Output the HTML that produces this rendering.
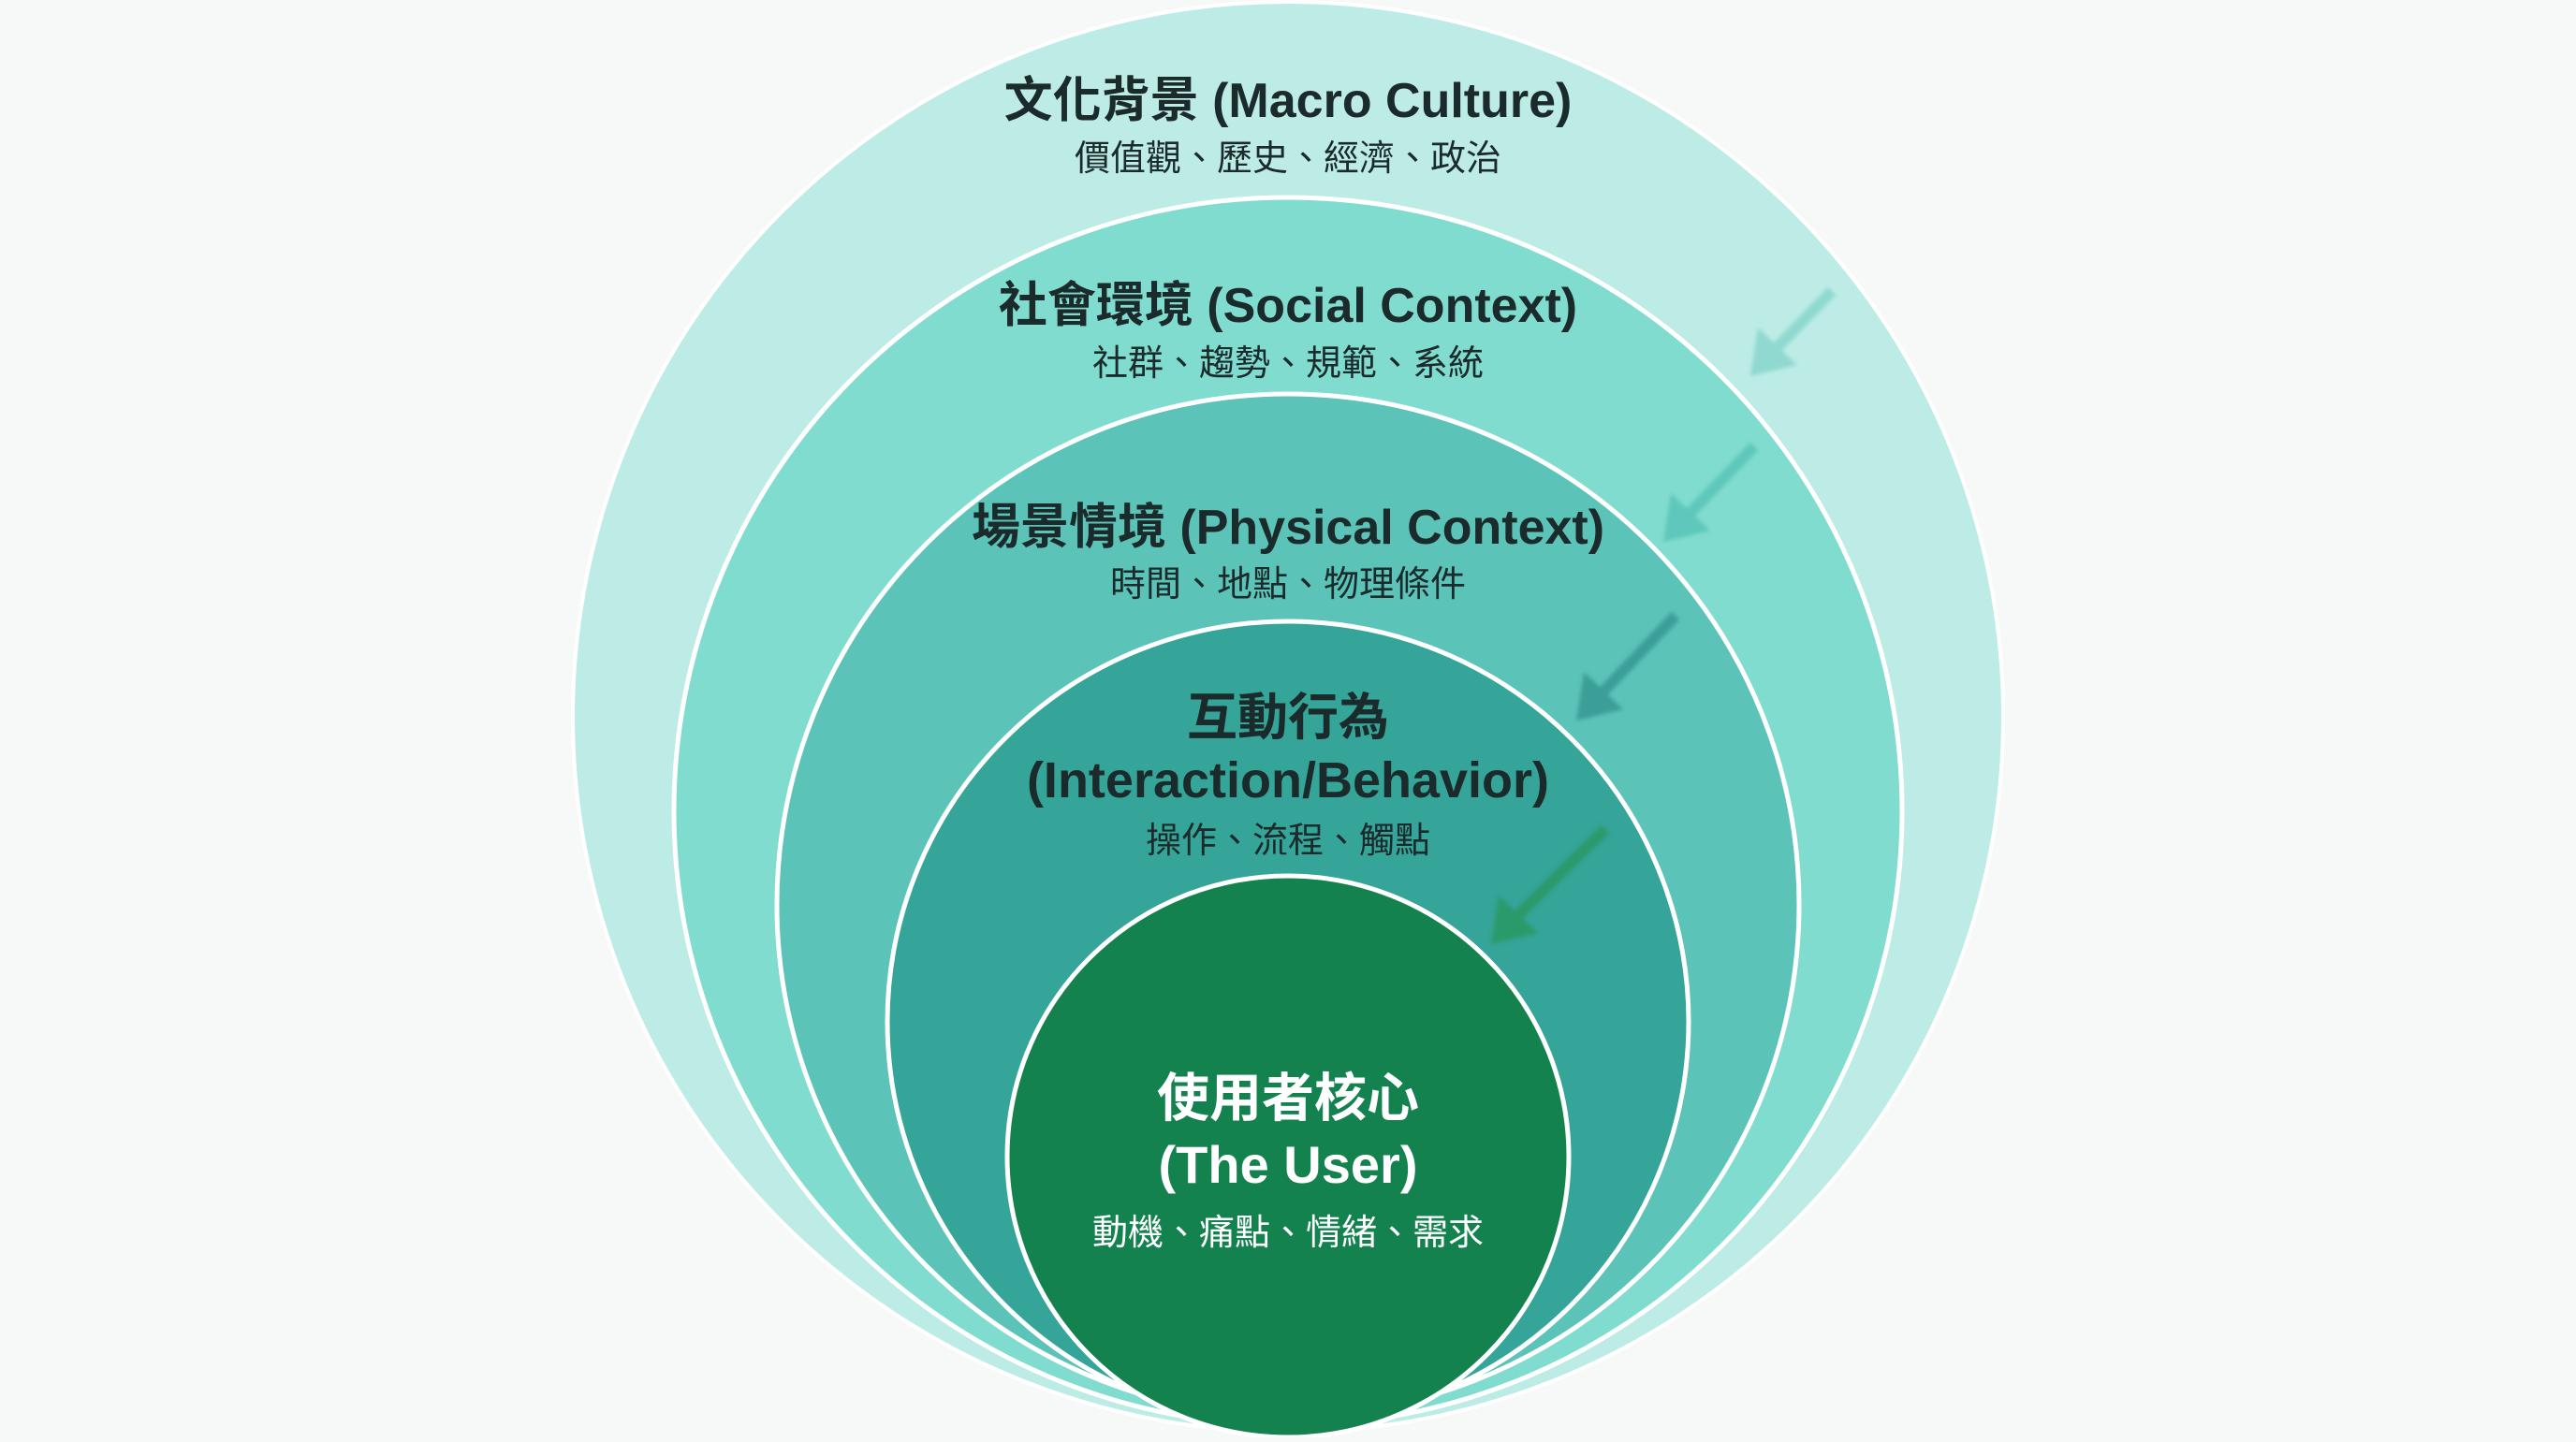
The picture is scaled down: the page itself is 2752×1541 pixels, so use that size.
<!DOCTYPE html>
<html><head><meta charset="utf-8"><style>
html,body{margin:0;padding:0;background:#f7f9f9;}
svg text{font-family:"Liberation Sans","Noto Sans CJK TC",sans-serif;text-anchor:middle;}
</style></head><body>
<svg width="2752" height="1536" viewBox="0 0 2752 1536" xmlns="http://www.w3.org/2000/svg">
<defs>
<filter id="bl"><feGaussianBlur stdDeviation="2"/></filter>
</defs>
<rect width="2752" height="1536" fill="#f7f9f9"/>
<circle cx="1376" cy="766" r="764" fill="#bdece6" stroke="#fff" stroke-width="4"/>
<circle cx="1376" cy="867" r="656" fill="#80dccf" stroke="#fff" stroke-width="5"/>
<circle cx="1376" cy="967" r="546" fill="#5cc3b9" stroke="#fff" stroke-width="5"/>
<circle cx="1376" cy="1092" r="428" fill="#35a499" stroke="#fff" stroke-width="5"/>
<circle cx="1376" cy="1236" r="300" fill="#13824f" stroke="#fff" stroke-width="5"/>
<g filter="url(#bl)">
<path d="M1957,311 L1895,375" stroke="#8fd9d0" stroke-width="12" fill="none"/>
<path d="M1870,402 L1878,350 L1920,390 z" fill="#8fd9d0"/>
<path d="M1874,477 L1802,552" stroke="#5ec7bb" stroke-width="12" fill="none"/>
<path d="M1777,579 L1785,527 L1827,567 z" fill="#5ec7bb"/>
<path d="M1790,658 L1709,743" stroke="#3a9f98" stroke-width="12" fill="none"/>
<path d="M1684,770 L1692,718 L1734,758 z" fill="#3a9f98"/>
<path d="M1715,886 L1618,982" stroke="#2a9a6a" stroke-width="12" fill="none"/>
<path d="M1593,1009 L1601,957 L1643,997 z" fill="#2a9a6a"/>
</g>
<g fill="#1b2a2a">
<text x="1376" y="125" font-size="52" font-weight="bold">文化背景 (Macro Culture)</text>
<text x="1376" y="182" font-size="38">價值觀、歷史、經濟、政治</text>
<text x="1376" y="344" font-size="52" font-weight="bold">社會環境 (Social Context)</text>
<text x="1376" y="401" font-size="38">社群、趨勢、規範、系統</text>
<text x="1376" y="581" font-size="52" font-weight="bold">場景情境 (Physical Context)</text>
<text x="1376" y="637" font-size="38">時間、地點、物理條件</text>
<text x="1376" y="785" font-size="54" font-weight="bold">互動行為</text>
<text x="1376" y="852" font-size="54" font-weight="bold">(Interaction/Behavior)</text>
<text x="1376" y="911" font-size="38">操作、流程、觸點</text>
</g>
<g fill="#ffffff">
<text x="1376" y="1193" font-size="56" font-weight="bold">使用者核心</text>
<text x="1376" y="1264" font-size="56" font-weight="bold">(The User)</text>
<text x="1376" y="1330" font-size="38">動機、痛點、情緒、需求</text>
</g>
</svg>
</body></html>
